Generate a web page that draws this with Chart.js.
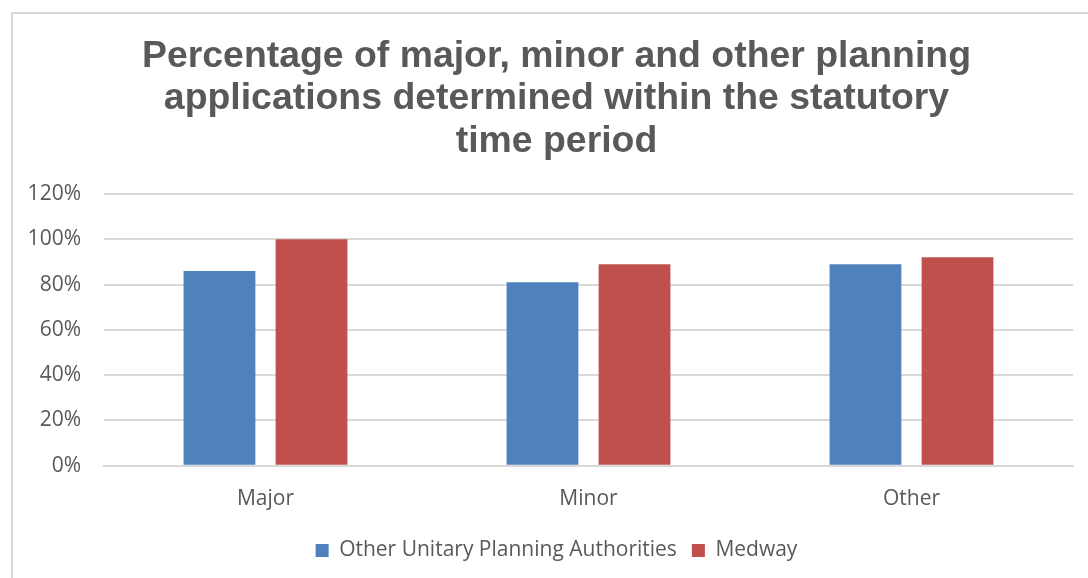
<!DOCTYPE html>
<html>
<head>
<meta charset="utf-8">
<script src="https://cdn.jsdelivr.net/npm/chart.js@4/dist/chart.umd.min.js"></script>
<style>
html,body{margin:0;padding:0;background:#fff;overflow:hidden;}
#frame{position:absolute;left:11px;top:12px;width:1100px;height:600px;border:2px solid #d9d9d9;box-sizing:border-box;}
#wrap{position:absolute;left:0;top:0;width:1088px;height:578px;}
</style>
</head>
<body>
<div id="frame"></div>
<div id="wrap"><canvas id="c"></canvas></div>
<script>
const categories = ["Major", "Minor", "Other"];
const otherUnitary = [86, 81, 89];
const medway = [100, 89, 92];
const seriesNames = ["Other Unitary Planning Authorities", "Medway"];
const yTicks = [0, 20, 40, 60, 80, 100, 120];
const titleLines = ["Percentage of major, minor and other planning", "applications determined within the statutory", "time period"];

const txt = '#595959';
const bodyFont = '"Open Sans", sans-serif';
new Chart(document.getElementById('c'), {
  type: 'bar',
  data: {
    labels: categories,
    datasets: [
      {label: seriesNames[0], data: otherUnitary, backgroundColor: '#4f81bd', categoryPercentage: 0.57, barPercentage: 0.78},
      {label: seriesNames[1], data: medway, backgroundColor: '#c0504d', categoryPercentage: 0.57, barPercentage: 0.78}
    ]
  },
  options: {
    responsive: true,
    maintainAspectRatio: false,
    animation: false,
    layout: {padding: {left: 25, right: 0, top: 0, bottom: 7}},
    plugins: {
      title: {
        display: true,
        text: titleLines,
        color: txt,
        font: {family: '"Liberation Sans", Arial, sans-serif', size: 37.4, weight: 'bold', lineHeight: 1.14},
        padding: {top: 35, bottom: 31}
      },
      legend: {
        position: 'bottom',
        labels: {color: txt, font: {family: bodyFont, size: 21}, boxWidth: 13, boxHeight: 13, padding: 15}
      },
      tooltip: {enabled: false}
    },
    scales: {
      x: {
        grid: {display: false},
        border: {color: '#d9d9d9', width: 2},
        ticks: {color: txt, font: {family: bodyFont, size: 21}, padding: 13}
      },
      y: {
        min: 0, max: 120,
        afterBuildTicks: (ax) => { ax.ticks = yTicks.map(v => ({value: v})); },
        afterFit: (ax) => { ax.width = 79; },
        grid: {color: '#d9d9d9', lineWidth: 2, drawTicks: false},
        border: {display: false},
        ticks: {color: txt, font: {family: bodyFont, size: 21}, padding: 23, callback: v => v + '%'}
      },
      yR: {
        position: 'right',
        min: 0, max: 120,
        afterFit: (ax) => { ax.width = 15; },
        grid: {display: false, drawTicks: false},
        border: {display: false},
        ticks: {display: false}
      }
    }
  }
});
</script>
</body>
</html>
